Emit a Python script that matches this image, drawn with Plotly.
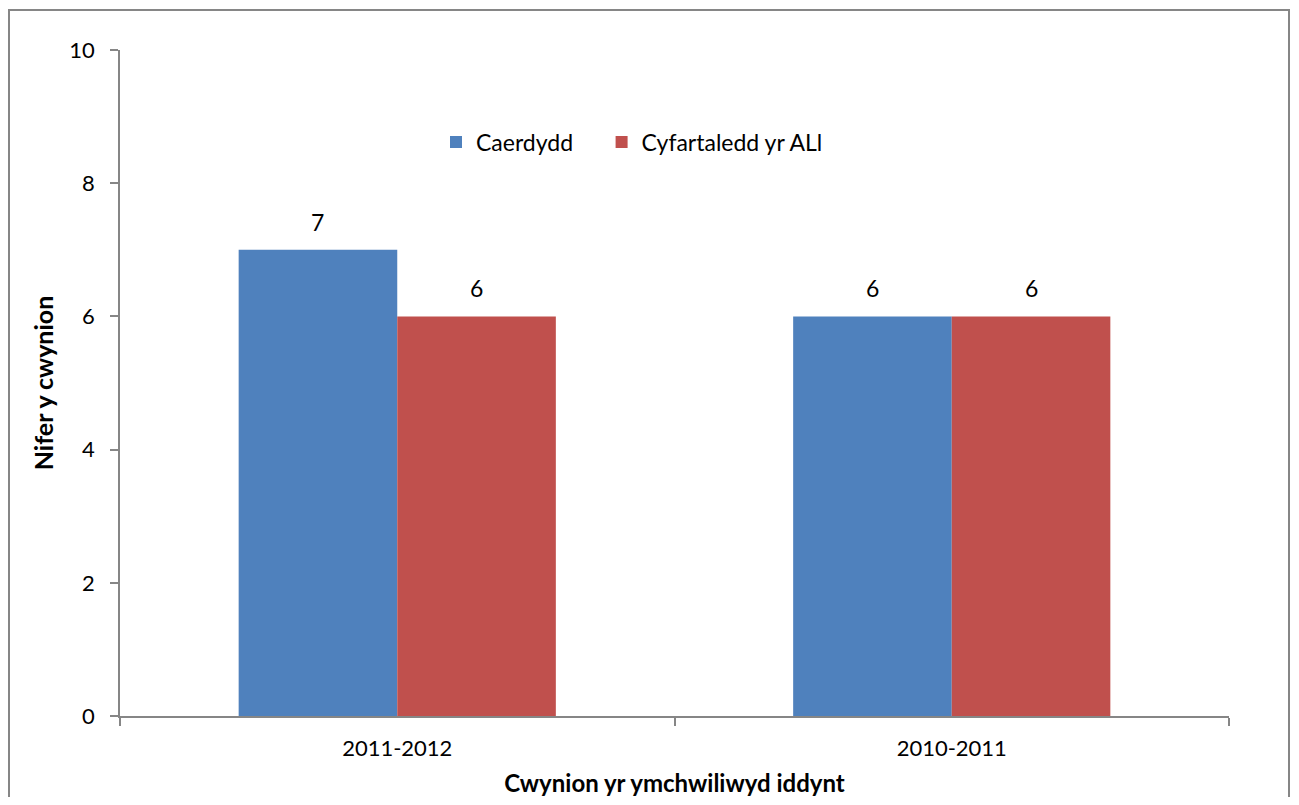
import plotly.graph_objects as go

categories = ["2011-2012", "2010-2011"]
caerdydd = [7, 6]
cyfartaledd = [6, 6]
series_names = ["Caerdydd", "Cyfartaledd yr ALl"]
series_colors = ["#4F81BD", "#C0504D"]
y_ticks = [0, 2, 4, 6, 8, 10]

FONT = "Lato"
OFF = 8  # page body margin
W, H = 1283, 789
L, T = 112, 42
R = W - (1229 - OFF)
B = H - (716 - OFF)
pw, ph = W - L - R, H - T - B
BARGAP = 0.428


def px(x):
    return (x - OFF - L) / pw


def py(y):
    return (H - B - (y - OFF)) / ph


fig = go.Figure()
legend_pad = ["\u00a0" * 4, ""]
for name, pad, vals, col in zip(series_names, legend_pad, [caerdydd, cyfartaledd], series_colors):
    fig.add_trace(go.Bar(x=categories, y=vals, name=name + pad,
                         marker=dict(color=col, line=dict(width=0))))

# data labels above bars
bar_px = pw / len(categories) * (1 - BARGAP) / 2
for k, vals in enumerate([caerdydd, cyfartaledd]):
    shift = (k - 0.5) * bar_px
    for cat, v in zip(categories, vals):
        fig.add_annotation(x=cat, y=v, xref="x", yref="y", text=str(v),
                           showarrow=False, xanchor="center", yanchor="bottom",
                           xshift=shift, yshift=12,
                           font=dict(size=23, family=FONT, color="black"))

fig.update_layout(
    width=W, height=H,
    margin=dict(l=L, r=R, t=T, b=B, autoexpand=False),
    paper_bgcolor="white", plot_bgcolor="white",
    barmode="group", bargap=BARGAP, bargroupgap=0,
    font=dict(family=FONT, size=22, color="black"),
    showlegend=True,
    legend=dict(orientation="h", x=px(436), y=py(142), xanchor="left", yanchor="middle",
                font=dict(size=23, family=FONT), bgcolor="rgba(0,0,0,0)",
                itemwidth=30, traceorder="normal"),
    xaxis=dict(showline=True, linecolor="#868686", linewidth=1.5,
               ticks="outside", ticklen=8, tickcolor="#868686", tickwidth=1.5,
               tickson="boundaries", ticklabelstandoff=12,
               tickfont=dict(size=22, family=FONT),
               title=dict(text="<b>Cwynion yr ymchwiliwyd iddynt</b>",
                          font=dict(size=24, family=FONT), standoff=26),
               showgrid=False, zeroline=False),
    yaxis=dict(range=[0, 10], tickvals=y_ticks, showline=True, linecolor="#868686",
               linewidth=1.5, ticks="outside", ticklen=8, tickcolor="#868686", tickwidth=1.5,
               ticklabelstandoff=11,
               tickfont=dict(size=22, family=FONT),
               title=dict(text="<b>Nifer y cwynion</b>",
                          font=dict(size=25, family=FONT), standoff=9),
               showgrid=False, zeroline=False),
)

fig.add_shape(type="rect", xref="paper", yref="paper",
              x0=px(9), x1=px(1289), y0=py(840), y1=py(10),
              line=dict(color="#868686", width=2), fillcolor="rgba(0,0,0,0)", layer="below")

fig.write_html("out.html")
